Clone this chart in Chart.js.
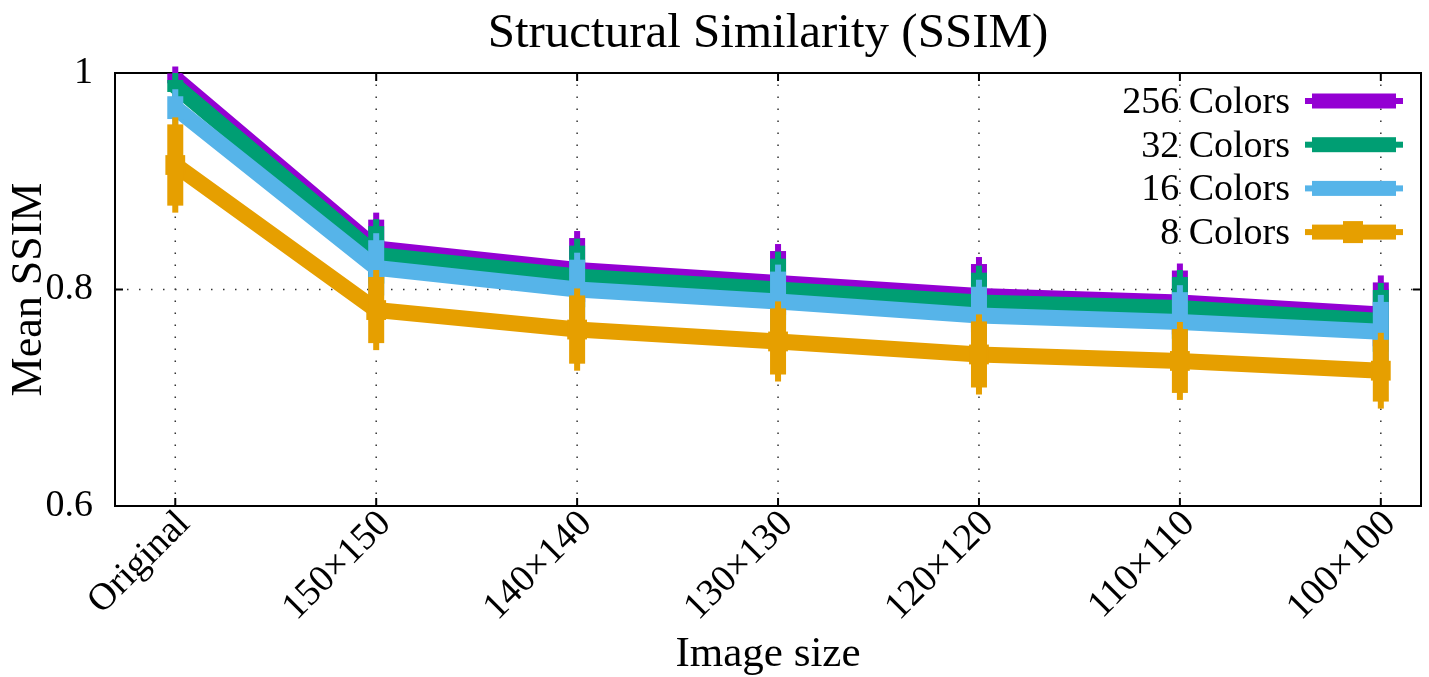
<!DOCTYPE html>
<html>
<head>
<meta charset="utf-8">
<title>Structural Similarity (SSIM)</title>
<script src="https://cdn.jsdelivr.net/npm/chart.js@4.4.1/dist/chart.umd.min.js"></script>
<style>
    body { margin: 0; background: #fff; }
    #chart_box { width: 1429px; height: 677px; }
</style>
</head>
<body>
<div id="chart_box"><canvas id="ssim_chart" width="1429" height="677"></canvas></div>
<script>
// values
const image_sizes = ['Original', '150×150', '140×140', '130×130', '120×120', '110×110', '100×100'];
const y_ticks = [0.6, 0.8, 1];

const series_names = ['256 Colors', '32 Colors', '16 Colors', '8 Colors'];
const series_colors = ['#9400d3', '#009e73', '#56b4e9', '#e69f00'];

const ssim_256 = [0.995, 0.838, 0.818, 0.806, 0.794, 0.788, 0.777];
const ssim_32 = [0.988, 0.832, 0.812, 0.800, 0.788, 0.783, 0.771];
const ssim_16 = [0.968, 0.820, 0.800, 0.789, 0.776, 0.770, 0.761];
const ssim_8 = [0.915, 0.781, 0.763, 0.752, 0.740, 0.734, 0.725];

const err_256 = [0.011, 0.033, 0.036, 0.036, 0.036, 0.036, 0.036];
const err_32 = [0.012, 0.033, 0.035, 0.035, 0.034, 0.035, 0.035];
const err_16 = [0.017, 0.032, 0.034, 0.034, 0.033, 0.034, 0.034];
const err_8 = [0.044, 0.037, 0.038, 0.037, 0.037, 0.036, 0.035];

const all_values = [ssim_256, ssim_32, ssim_16, ssim_8];
const all_errors = [err_256, err_32, err_16, err_8];

const serif = '"Liberation Serif", "Times New Roman", serif';
Chart.defaults.font.family = serif;
Chart.defaults.color = '#000';

function draw_dotted(ctx, x0, y0, x1, y1) {
    ctx.beginPath();
    ctx.moveTo(x0, y0);
    ctx.lineTo(x1, y1);
    ctx.stroke();
}

const gnuplot_look = {
    id: 'gnuplot_look',
    beforeDatasetsDraw(chart) {
        const { ctx, chartArea: a, scales: { x, y } } = chart;
        ctx.save();
        // dotted grid
        ctx.strokeStyle = '#333';
        ctx.lineWidth = 1.5;
        ctx.setLineDash([1.5, 10.5]);
        x.ticks.forEach(t => {
            const px = x.getPixelForValue(t.value);
            draw_dotted(ctx, px, a.bottom, px, a.top);
        });
        y.ticks.forEach(t => {
            if (t.value <= y.min || t.value >= y.max) return;
            const py = y.getPixelForValue(t.value);
            draw_dotted(ctx, a.left, py, a.right, py);
        });
        ctx.setLineDash([]);
        // border + inward ticks
        ctx.strokeStyle = '#000';
        ctx.lineWidth = 2;
        ctx.strokeRect(a.left, a.top, a.right - a.left, a.bottom - a.top);
        ctx.beginPath();
        x.ticks.forEach(t => {
            const px = x.getPixelForValue(t.value);
            ctx.moveTo(px, a.bottom); ctx.lineTo(px, a.bottom - 8);
            ctx.moveTo(px, a.top); ctx.lineTo(px, a.top + 8);
        });
        y.ticks.forEach(t => {
            const py = y.getPixelForValue(t.value);
            ctx.moveTo(a.left, py); ctx.lineTo(a.left + 8, py);
            ctx.moveTo(a.right, py); ctx.lineTo(a.right - 8, py);
        });
        ctx.stroke();
        ctx.restore();
    },
    afterDatasetDraw(chart, args) {
        const ctx = chart.ctx;
        const y = chart.scales.y;
        const ds = chart.data.datasets[args.index];
        ctx.save();
        ctx.fillStyle = ds.borderColor;
        args.meta.data.forEach((pt, i) => {
            const top = y.getPixelForValue(ds.data[i] + ds.errorBars[i]);
            const bot = y.getPixelForValue(ds.data[i] - ds.errorBars[i]);
            ctx.fillRect(pt.x - 3, top, 6, bot - top);
            ctx.fillRect(pt.x - 8, top + 7, 16, bot - top - 14);
        });
        ctx.restore();
    },
    afterDraw(chart) {
        const { ctx, chartArea: a } = chart;
        ctx.save();
        ctx.font = '38px ' + serif;
        ctx.textAlign = 'right';
        ctx.textBaseline = 'middle';
        series_names.forEach((name, i) => {
            const row_y = a.top + 28 + i * 43.7;
            ctx.fillStyle = '#000';
            ctx.fillText(name, a.right - 131, row_y + 2);
            ctx.fillStyle = series_colors[i];
            ctx.fillRect(a.right - 116, row_y - 3, 98, 6);
            ctx.fillRect(a.right - 109, row_y - 7.5, 84, 15);
            if (i === 3) ctx.fillRect(a.right - 78, row_y - 11, 20, 22);
        });
        ctx.restore();
    }
};

const datasets = all_values.map((vals, i) => ({
    label: series_names[i],
    data: vals,
    errorBars: all_errors[i],
    borderColor: series_colors[i],
    backgroundColor: series_colors[i],
    borderWidth: 16,
    borderCapStyle: 'butt',
    borderJoinStyle: 'miter',
    pointStyle: 'rect',
    pointRadius: i === 3 ? 14 : 0,
    pointBorderWidth: 0,
    tension: 0,
    order: all_values.length - i
}));

new Chart(document.getElementById('ssim_chart'), {
    type: 'line',
    data: {
        labels: image_sizes.map((_, i) => i),
        datasets: datasets
    },
    plugins: [gnuplot_look],
    options: {
        responsive: false,
        animation: false,
        events: [],
        layout: { autoPadding: false, padding: { left: 0, right: 8, top: 0, bottom: 0 } },
        plugins: {
            legend: { display: false },
            tooltip: { enabled: false },
            title: {
                display: true,
                fullSize: false,
                text: 'Structural Similarity (SSIM)',
                font: { size: 49, weight: 'normal', family: serif },
                padding: { top: 5, bottom: 9.2 }
            }
        },
        scales: {
            x: {
                type: 'linear',
                min: -0.3,
                max: 6.2,
                afterBuildTicks: scale => { scale.ticks = image_sizes.map((_, i) => ({ value: i })); },
                afterFit: scale => {
                    scale.height = 171;
                    scale.paddingLeft = 0;
                    scale.paddingRight = 0;
                },
                grid: { display: false },
                border: { display: false },
                ticks: {
                    autoSkip: false,
                    minRotation: 45,
                    maxRotation: 45,
                    padding: -12,
                    labelOffset: 9,
                    font: { size: 38 },
                    callback: v => image_sizes[v]
                },
                title: {
                    display: true,
                    text: 'Image size',
                    font: { size: 43, lineHeight: 1 },
                    padding: { top: 0, bottom: 1 }
                }
            },
            y: {
                min: 0.6,
                max: 1,
                afterBuildTicks: scale => { scale.ticks = y_ticks.map(v => ({ value: v })); },
                afterFit: scale => { scale.width = 115; },
                grid: { display: false },
                border: { display: false },
                ticks: {
                    padding: 14,
                    font: { size: 38 },
                    callback: v => String(v)
                },
                title: {
                    display: true,
                    text: 'Mean SSIM',
                    font: { size: 44, lineHeight: 1 },
                    padding: { top: 7, bottom: 0 }
                }
            }
        }
    }
});
</script>
</body>
</html>
